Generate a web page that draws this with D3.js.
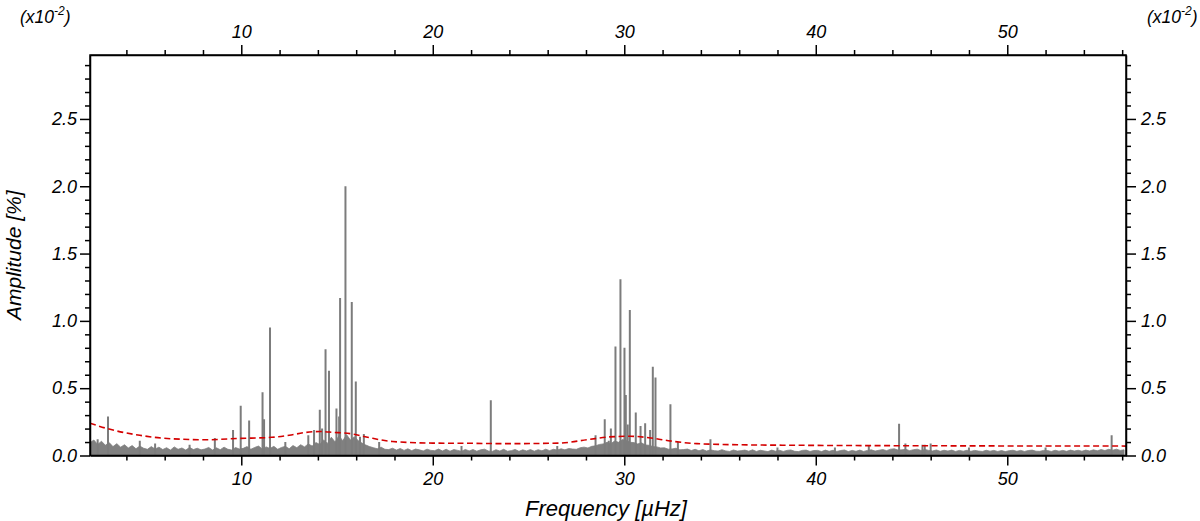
<!DOCTYPE html>
<html>
<head>
<meta charset="utf-8">
<script src="https://cdn.jsdelivr.net/npm/d3@7"></script>
<style>
  body { margin: 0; background: #fff; }
  svg text { font-family: "Liberation Sans", Arial, sans-serif; font-style: italic; }
</style>
</head>
<body>
<svg width="1200" height="521"></svg>
<script>
// frequency axis (µHz) and amplitude axis (%)
const freqMajor = [10, 20, 30, 40, 50]
const freqMinor = [4, 6, 8, 12, 14, 16, 18, 22, 24, 26, 28, 32, 34, 36, 38, 42, 44, 46, 48, 52, 54, 56]
const ampMajor = [0, 0.5, 1.0, 1.5, 2.0, 2.5]
const ampMinor = [0.1, 0.2, 0.3, 0.4, 0.6, 0.7, 0.8, 0.9, 1.1, 1.2, 1.3, 1.4, 1.6, 1.7, 1.8, 1.9, 2.1, 2.2, 2.3, 2.4, 2.6, 2.7, 2.8, 2.9]

// noise floor, one value every 0.2 µHz starting at 2.1 µHz, in units of 0.001 %
const noiseStart = 2.1
const noiseStep = 0.2
const noise = [
  95,115,82,106,76,96,66,88,62,80,
  56,74,50,70,54,46,66,48,62,44,
  58,40,64,46,56,40,60,44,54,42,
  48,60,40,57,43,62,46,41,59,48,
  53,66,46,60,70,48,64,52,68,46,
  60,68,50,74,58,80,64,86,70,96,
  82,116,90,136,100,146,110,155,115,140,
  112,92,78,66,58,50,62,46,44,54,
  40,52,38,50,36,48,42,34,47,38,
  36,48,34,46,32,44,38,31,45,34,
  44,32,42,47,34,30,43,33,46,32,
  36,45,31,42,34,44,32,43,35,47,
  36,46,40,50,42,52,48,46,58,62,
  56,68,72,82,86,98,88,108,98,118,
  112,98,96,86,94,78,76,66,64,56,
  57,47,49,54,42,44,48,37,46,35,
  44,33,42,36,33,43,34,30,41,33,
  36,40,32,42,30,39,34,29,40,32,
  39,30,38,41,31,29,38,40,30,37,
  38,29,40,31,39,30,37,41,29,38,
  31,40,30,38,42,33,39,44,36,47,
  50,40,42,46,36,43,47,37,45,38,
  34,41,31,39,33,40,30,38,32,39,
  31,38,33,30,39,32,38,30,37,29,
  36,39,31,38,30,37,40,32,31,38,
  37,30,39,32,38,31,40,33,39,32,
  40,34,42,35,44,37,46,39,47,38,
  42
]

// individual peaks: frequency (µHz) and amplitude (%)
const peakFreq = [2.50, 3.04, 4.70, 5.50, 7.30, 8.62, 9.57, 9.97, 10.41, 11.11, 11.19, 11.50,
  12.30, 13.50, 13.80, 14.10, 14.22, 14.40, 14.58, 14.97, 15.11, 15.16, 15.44, 15.77, 15.98, 16.20, 16.40, 17.20,
  21.50, 23.03, 26.50, 28.50, 28.98, 29.19, 29.30, 29.54, 29.80, 30.01, 30.08, 30.18, 30.29, 30.60, 30.85,
  31.09, 31.35, 31.49, 31.63, 32.41, 32.80, 34.50, 38.00, 41.00, 42.77, 44.35, 44.68, 45.57, 45.69,
  46.00, 48.00, 52.00, 55.45]
const peakAmp = [0.12, 0.29, 0.11, 0.09, 0.08, 0.13, 0.19, 0.37, 0.26, 0.47, 0.27, 0.95,
  0.10, 0.15, 0.19, 0.34, 0.20, 0.79, 0.63, 0.35, 0.29, 1.17, 2.00, 1.14, 0.55, 0.14, 0.16, 0.10,
  0.07, 0.41, 0.07, 0.15, 0.27, 0.11, 0.20, 0.81, 1.31, 0.80, 0.45, 0.23, 1.08, 0.32, 0.22,
  0.24, 0.19, 0.66, 0.58, 0.38, 0.10, 0.12, 0.06, 0.06, 0.075, 0.235, 0.09, 0.08, 0.08,
  0.09, 0.06, 0.06, 0.15]

// significance threshold (red dashed)
const threshFreq = [2.1, 3.0, 4.7, 6.4, 8.2, 9.9, 11.6, 12.5, 13.4, 14.1, 14.8, 15.8, 16.7, 17.9,
  20.0, 21.7, 24.0, 26.6, 28.1, 29.2, 30.3, 31.4, 32.3, 33.8, 35.9, 39.0, 44.0, 50.0, 56.2]
const threshAmp = [0.24, 0.20, 0.15, 0.124, 0.117, 0.127, 0.135, 0.15, 0.172, 0.178, 0.172, 0.16, 0.132, 0.104,
  0.092, 0.091, 0.088, 0.092, 0.118, 0.138, 0.143, 0.13, 0.11, 0.088, 0.08, 0.076, 0.073, 0.071, 0.07]

const svg = d3.select('svg')
const margin = {top: 55, right: 74, bottom: 65.5, left: 90}
const width = 1200 - margin.left - margin.right
const height = 521 - margin.top - margin.bottom

const x = d3.scaleLinear().domain([2.1, 56.2]).range([0, width])
const y = d3.scaleLinear().domain([0, 2.975]).range([height, 0])

const g = svg.append('g').attr('transform', `translate(${margin.left},${margin.top})`)

g.append('clipPath').attr('id', 'clip')
  .append('rect').attr('width', width).attr('height', height)

const plot = g.append('g').attr('clip-path', 'url(#clip)')

// noise floor
const noiseData = noise.map((v, i) => [noiseStart + i * noiseStep, v / 1000])
plot.append('path')
  .datum(noiseData)
  .attr('fill', '#808080')
  .attr('stroke', '#808080')
  .attr('stroke-width', 0.8)
  .attr('d', d3.area().x(d => x(d[0])).y0(y(0)).y1(d => y(d[1])))

// peaks
plot.selectAll('line.peak')
  .data(peakFreq.map((f, i) => [f, peakAmp[i]]))
  .join('line')
  .attr('class', 'peak')
  .attr('x1', d => x(d[0])).attr('x2', d => x(d[0]))
  .attr('y1', y(0)).attr('y2', d => y(d[1]))
  .attr('stroke', '#7c7c7c')
  .attr('stroke-width', 2)

// threshold
plot.append('path')
  .datum(threshFreq.map((f, i) => [f, threshAmp[i]]))
  .attr('fill', 'none')
  .attr('stroke', '#d40000')
  .attr('stroke-width', 1.6)
  .attr('stroke-dasharray', '6,3.5')
  .attr('d', d3.line().curve(d3.curveMonotoneX).x(d => x(d[0])).y(d => y(d[1])))

// axes
const fmtY = d3.format('.1f')
function styleAxis(sel) {
  sel.selectAll('path, line').attr('stroke', '#000').attr('stroke-width', 1.5)
  sel.selectAll('text').attr('font-size', 18).attr('fill', '#000')
    .style('font-family', '"Liberation Sans", Arial, sans-serif').style('font-style', 'italic')
}

g.append('g').attr('transform', `translate(0,${height})`)
  .call(d3.axisBottom(x).tickValues(freqMajor).tickSize(10).tickSizeOuter(0).tickPadding(7))
  .call(styleAxis)
g.append('g').attr('transform', `translate(0,${height})`)
  .call(d3.axisBottom(x).tickValues(freqMinor).tickSize(5).tickFormat(''))
  .call(s => s.select('.domain').remove()).call(styleAxis)

g.append('g')
  .call(d3.axisTop(x).tickValues(freqMajor).tickSize(10).tickSizeOuter(0).tickPadding(7))
  .call(styleAxis)
g.append('g')
  .call(d3.axisTop(x).tickValues(freqMinor).tickSize(5).tickFormat(''))
  .call(s => s.select('.domain').remove()).call(styleAxis)

g.append('g')
  .call(d3.axisLeft(y).tickValues(ampMajor).tickFormat(fmtY).tickSize(10).tickSizeOuter(0).tickPadding(3))
  .call(styleAxis)
g.append('g')
  .call(d3.axisLeft(y).tickValues(ampMinor).tickSize(5).tickFormat(''))
  .call(s => s.select('.domain').remove()).call(styleAxis)

g.append('g').attr('transform', `translate(${width},0)`)
  .call(d3.axisRight(y).tickValues(ampMajor).tickFormat(fmtY).tickSize(10).tickSizeOuter(0).tickPadding(5))
  .call(styleAxis)
g.append('g').attr('transform', `translate(${width},0)`)
  .call(d3.axisRight(y).tickValues(ampMinor).tickSize(5).tickFormat(''))
  .call(s => s.select('.domain').remove()).call(styleAxis)

// frame
g.append('rect').attr('width', width).attr('height', height)
  .attr('fill', 'none').attr('stroke', '#000').attr('stroke-width', 1.5)

// titles
svg.append('text')
  .attr('x', margin.left + width / 2 - 2).attr('y', 516)
  .attr('text-anchor', 'middle').attr('font-size', 22)
  .text('Frequency [µHz]')

svg.append('text')
  .attr('transform', `translate(21,${margin.top + height / 2}) rotate(-90)`)
  .attr('text-anchor', 'middle').attr('font-size', 21)
  .text('Amplitude [%]')

// scale notes
function scaleNote(xPos) {
  const t = svg.append('text').attr('x', xPos).attr('y', 23).attr('font-size', 17.5)
  t.append('tspan').text('(x10')
  t.append('tspan').attr('dy', -8).attr('font-size', 12).text('-2')
  t.append('tspan').attr('dy', 8).text(')')
}
scaleNote(20)
scaleNote(1147)
</script>
</body>
</html>
